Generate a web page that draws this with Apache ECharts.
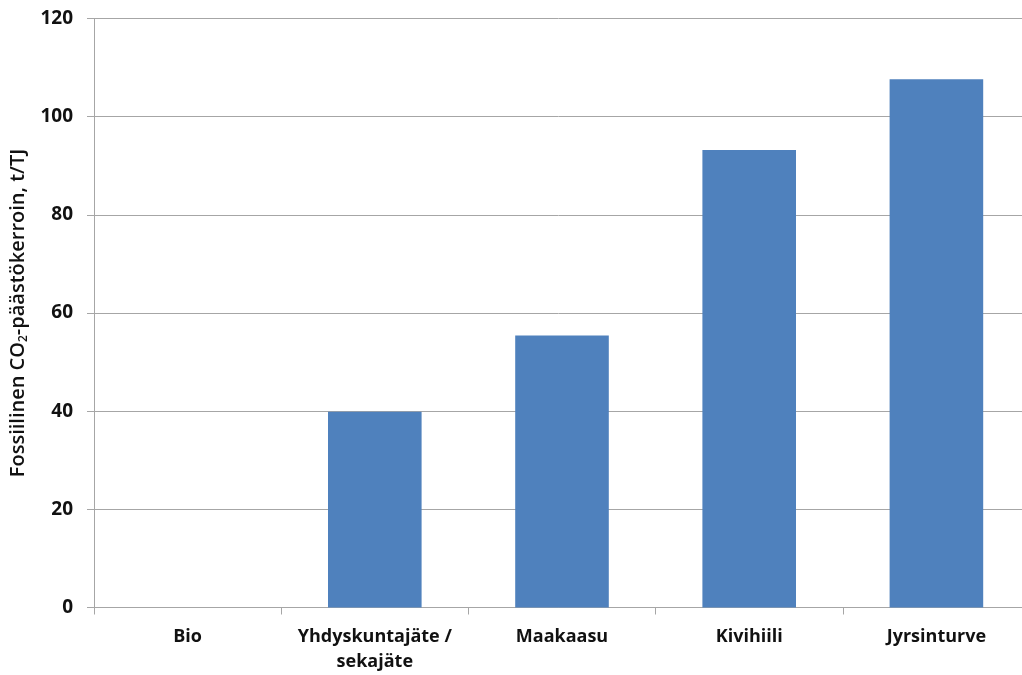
<!DOCTYPE html>
<html>
<head>
<meta charset="utf-8">
<script src="https://cdn.jsdelivr.net/npm/echarts@6/dist/echarts.min.js"></script>
<style>html,body{margin:0;padding:0;background:#fff;}#c{width:1022px;height:675px;}</style>
</head>
<body>
<div id="c"></div>
<script>
const categories = ['Bio', 'Yhdyskuntajäte /\nsekajäte', 'Maakaasu', 'Kivihiili', 'Jyrsinturve'];
const values = [0, 39.9, 55.4, 93.2, 107.6];
const yTicks = { min: 0, max: 120, interval: 20 };

const chart = echarts.init(document.getElementById('c'), null, { renderer: 'canvas' });
const font = '"Open Sans", sans-serif';
chart.setOption({
  backgroundColor: '#ffffff',
  animation: false,
  grid: { left: 94, width: 936, top: 18.5, bottom: 67.5, containLabel: false, outerBoundsMode: 'none' },
  xAxis: {
    type: 'category',
    data: categories,
    axisLine: { show: true, lineStyle: { color: '#a6a6a6', width: 1 } },
    axisTick: { show: true, length: 7, lineStyle: { color: '#a6a6a6' } },
    axisLabel: { interval: 0, hideOverlap: false, color: '#111111', fontFamily: font, fontWeight: 'bold', fontSize: 18, lineHeight: 25, margin: 17 },
    splitLine: { show: false }
  },
  yAxis: {
    type: 'value',
    min: yTicks.min, max: yTicks.max, interval: yTicks.interval,
    name: 'Fossiilinen CO{sub|2}-päästökerroin, t/TJ',
    nameLocation: 'middle',
    nameRotate: 90,
    nameGap: 58,
    nameTextStyle: {
      color: '#111111', fontFamily: font, fontWeight: 600, fontSize: 20,
      rich: { sub: { fontFamily: font, fontWeight: 600, fontSize: 12, verticalAlign: 'bottom', padding: [10, 0, 0, 0], color: '#111111' } }
    },
    axisLine: { show: true, lineStyle: { color: '#a6a6a6', width: 1 } },
    axisTick: { show: true, length: 7, lineStyle: { color: '#a6a6a6' } },
    axisLabel: { color: '#111111', fontFamily: font, fontWeight: 'bold', fontSize: 19, margin: 21 },
    splitLine: { show: true, lineStyle: { color: '#a6a6a6', width: 1 } }
  },
  series: [{
    type: 'bar',
    data: values,
    barWidth: '50%',
    itemStyle: { color: '#4f81bd' }
  }]
});
</script>
</body>
</html>
